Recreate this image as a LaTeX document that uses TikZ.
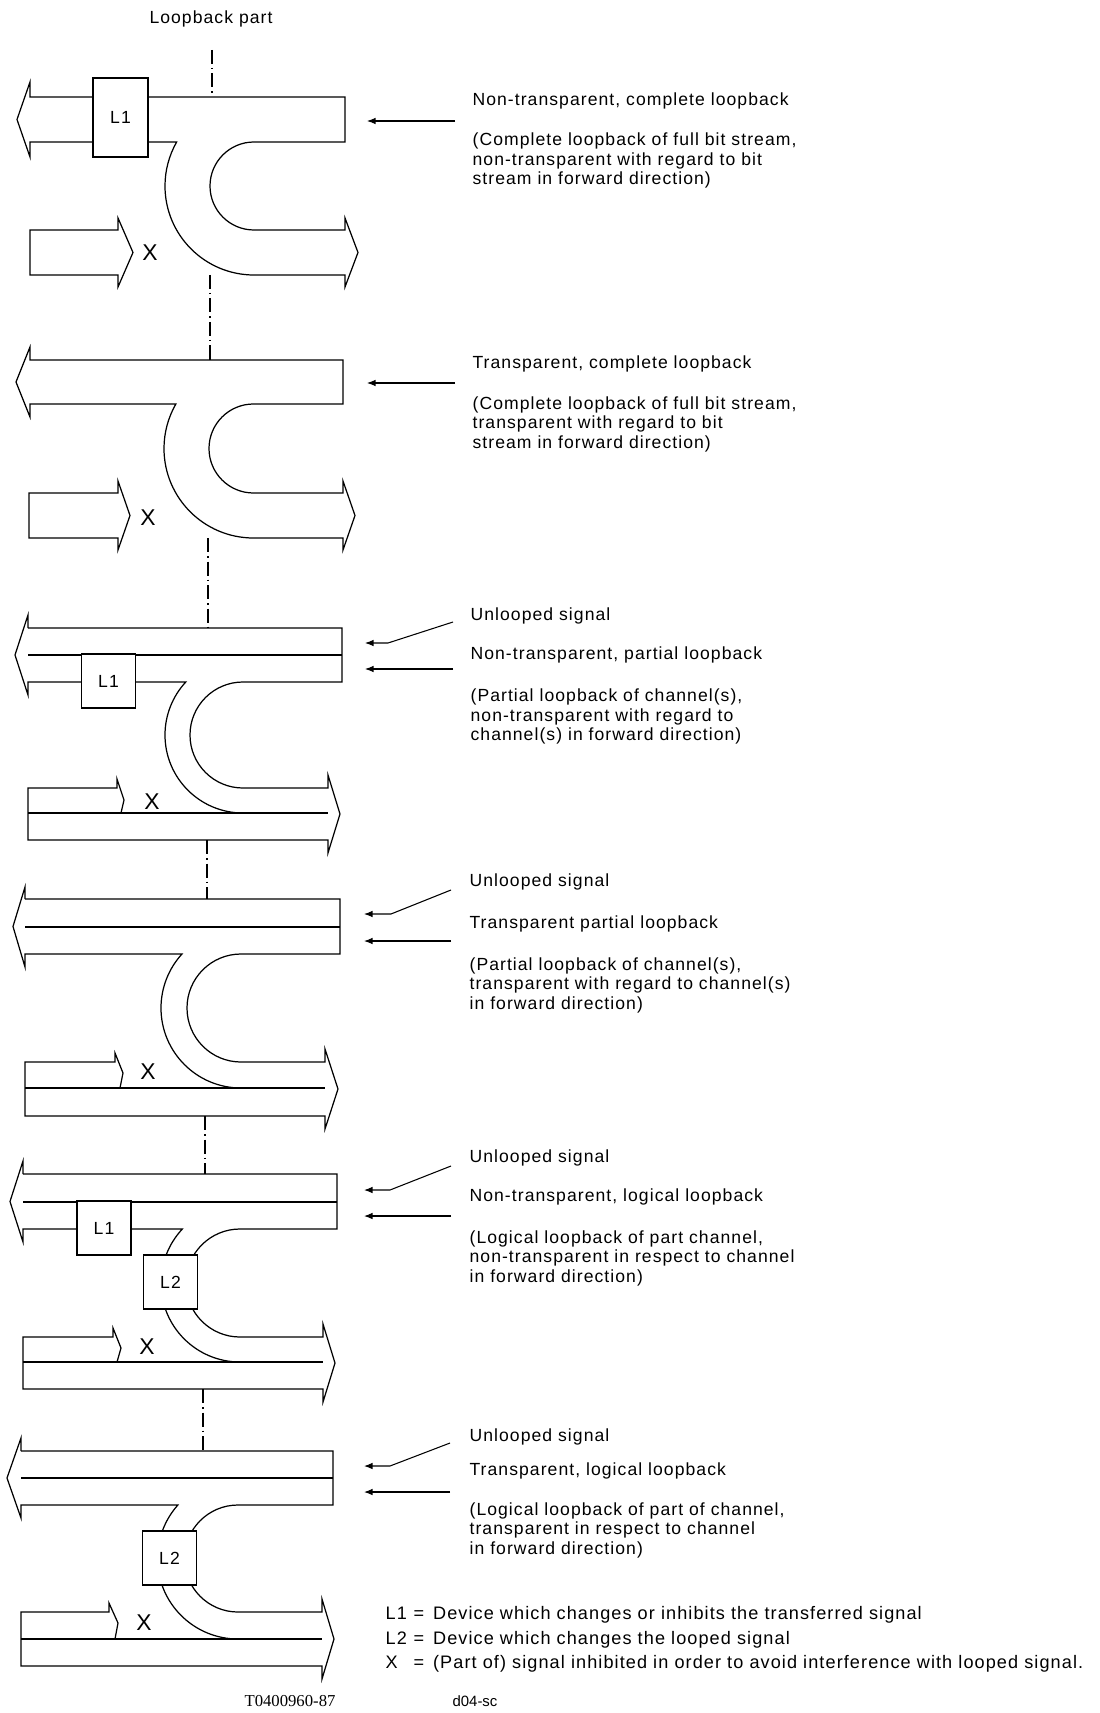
\documentclass[tikz,border=0pt]{standalone}
\usepackage{fontspec}
\setmainfont{Liberation Sans}
\newfontfamily\lblfont[LetterSpace=6]{Liberation Sans}
\newfontfamily\codefont{Liberation Serif}
\usetikzlibrary{arrows.meta}

\begin{document}
\begin{tikzpicture}[x=0.2mm, y=-0.2mm, line width=0.7pt,
    dev/.style={draw, fill=white, line width=0.7pt, inner sep=0pt,
      minimum width=10.8mm, minimum height=10.8mm,
      font=\lblfont\fontsize{10}{12}\selectfont},
    cut/.style={line width=0.6pt, dash pattern=on 2.8mm off 0.8mm on 0.3mm off 0.8mm},
    ptr/.style={line width=0.6pt, -{Latex[length=1.7mm, width=1.3mm]}},
    lbl/.style={anchor=west, inner sep=0pt, font=\lblfont\fontsize{10}{11.1}\selectfont},
    para/.style={lbl, align=left},
    xmark/.style={inner sep=0pt, font=\fontsize{13}{14}\selectfont}]

  \useasboundingbox (0,0) rectangle (1099,1713);

  \node[lbl, anchor=center] (head) at (211,18.6) {Loopback part};

  % loopback part (dash-dot)
  \draw[cut] (212,50) -- (212,97);
  \draw[cut] (210,275) -- (210,360);
  \draw[cut] (208,538) -- (208,628);
  \draw[cut] (207,840) -- (207,899);
  \draw[cut] (205,1116) -- (205,1174);
  \draw[cut] (203,1389) -- (203,1451);

  % non-transparent, complete loopback
  \draw (30,97) -- (345,97) -- (345,142) -- (254,142)
    arc[start angle=270, end angle=90, radius=44] -- (345,230) -- (345,218)
    -- (358,252.5) -- (345,287) -- (345,275) -- (254,275)
    arc[start angle=90, end angle=209.6, radius=89] -- (30,142) -- (30,157)
    -- (17,119.5) -- (30,82) -- cycle;
  \draw (30,230) -- (118,230) -- (118,218) -- (133,252.5) -- (118,287)
    -- (118,275) -- (30,275) -- cycle;
  \node[dev, line width=1.6pt, minimum width=11mm, minimum height=15.8mm]
    (l1a) at (120.5,117.5) {L1};
  \node[xmark] (xa) at (150,253) {X};
  \node[lbl] (t1) at (472,100.5) {Non-transparent, complete loopback};
  \node[para] (p1) at (472,160.5) {(Complete loopback of full bit stream,\\
    non-transparent with regard to bit\\ stream in forward direction)};
  \coordinate (a1tail) at (455,121);
  \coordinate (a1tip) at (367,121);
  \draw[ptr] (a1tail) -- (a1tip);

  % transparent, complete loopback
  \draw (30,360) -- (343,360) -- (343,404) -- (253.5,404)
    arc[start angle=270, end angle=90, radius=44.5] -- (343,493) -- (343,481)
    -- (355,515.5) -- (343,550) -- (343,538) -- (253.5,538)
    arc[start angle=90, end angle=209.8, radius=89.5] -- (30,404) -- (30,417)
    -- (16,382) -- (30,347) -- cycle;
  \draw (29,493) -- (118,493) -- (118,481) -- (130,515.5) -- (118,550)
    -- (118,538) -- (29,538) -- cycle;
  \node[xmark] (xb) at (148,518) {X};
  \node[lbl] (t2) at (472,364) {Transparent, complete loopback};
  \node[para] (p2) at (472,424) {(Complete loopback of full bit stream,\\
    transparent with regard to bit\\ stream in forward direction)};
  \coordinate (a2tail) at (455,383);
  \coordinate (a2tip) at (367,383);
  \draw[ptr] (a2tail) -- (a2tip);

  % non-transparent, partial loopback
  \draw (28,628) -- (342,628) -- (342,682) -- (243,682)
    arc[start angle=270, end angle=90, radius=53] -- (328,788) -- (328,775)
    -- (340,814) -- (328,853) -- (328,840) -- (28,840) -- (28,788)
    -- (117,788) -- (117,779) -- (124,800) -- (121,813);
  \draw (28,813) -- (328,813);
  \draw (243,813) arc[start angle=90, end angle=222.8, radius=78]
    -- (28,682) -- (28,695) -- (15,655) -- (28,615) -- (28,628);
  \draw (28,655) -- (342,655);
  \node[dev] (l1b) at (108.5,681) {L1};
  \node[xmark] (xc) at (152,802) {X};
  \node[lbl] (u3) at (470,616) {Unlooped signal};
  \node[lbl] (t3) at (470,655) {Non-transparent, partial loopback};
  \node[para] (p3) at (470,716.5) {(Partial loopback of channel(s),\\
    non-transparent with regard to\\ channel(s) in forward direction)};
  \coordinate (u3tail) at (453,622);
  \coordinate (u3bend) at (388,643);
  \coordinate (u3tip) at (365,643);
  \draw[ptr] (u3tail) -- (u3bend) -- (u3tip);
  \coordinate (a3tail) at (453,669);
  \coordinate (a3tip) at (365,669);
  \draw[ptr] (a3tail) -- (a3tip);

  % transparent partial loopback
  \draw (25,899) -- (340,899) -- (340,954) -- (241,954)
    arc[start angle=270, end angle=90, radius=54] -- (325,1062) -- (325,1049)
    -- (338,1089) -- (325,1129) -- (325,1116) -- (25,1116) -- (25,1062)
    -- (115,1062) -- (115,1053) -- (123,1073) -- (120,1088);
  \draw (25,1088) -- (325,1088);
  \draw (241,1088) arc[start angle=90, end angle=222.5, radius=80]
    -- (25,954) -- (25,967) -- (13,926.5) -- (25,887) -- (25,899);
  \draw (25,927) -- (340,927);
  \node[xmark] (xd) at (148,1072) {X};
  \node[lbl] (u4) at (469,881.5) {Unlooped signal};
  \node[lbl] (t4) at (469,924) {Transparent partial loopback};
  \node[para] (p4) at (469,985) {(Partial loopback of channel(s),\\
    transparent with regard to channel(s)\\ in forward direction)};
  \coordinate (u4tail) at (451,890);
  \coordinate (u4bend) at (391,914);
  \coordinate (u4tip) at (364,914);
  \draw[ptr] (u4tail) -- (u4bend) -- (u4tip);
  \coordinate (a4tail) at (451,941);
  \coordinate (a4tip) at (364,941);
  \draw[ptr] (a4tail) -- (a4tip);

  % non-transparent, logical loopback
  \draw (23,1174) -- (337,1174) -- (337,1229) -- (240,1229)
    arc[start angle=270, end angle=90, radius=54] -- (323,1337) -- (323,1324)
    -- (335,1363) -- (323,1402) -- (323,1389) -- (23,1389) -- (23,1337)
    -- (113,1337) -- (113,1328) -- (121,1348) -- (117,1362);
  \draw (23,1362) -- (323,1362);
  \draw (240,1362) arc[start angle=90, end angle=223.1, radius=79]
    -- (23,1229) -- (23,1242) -- (10,1201.5) -- (23,1161) -- (23,1174);
  \draw (23,1202) -- (337,1202);
  \node[dev] (l1c) at (104,1228) {L1};
  \node[dev] (l2a) at (170.5,1282) {L2};
  \node[xmark] (xe) at (147,1347) {X};
  \node[lbl] (u5) at (469,1158) {Unlooped signal};
  \node[lbl] (t5) at (469,1197) {Non-transparent, logical loopback};
  \node[para] (p5) at (469,1258) {(Logical loopback of part channel,\\
    non-transparent in respect to channel\\ in forward direction)};
  \coordinate (u5tail) at (451,1166);
  \coordinate (u5bend) at (390,1190);
  \coordinate (u5tip) at (364,1190);
  \draw[ptr] (u5tail) -- (u5bend) -- (u5tip);
  \coordinate (a5tail) at (451,1216);
  \coordinate (a5tip) at (364,1216);
  \draw[ptr] (a5tail) -- (a5tip);

  % transparent, logical loopback
  \draw (21,1451) -- (333,1451) -- (333,1505) -- (238,1505)
    arc[start angle=270, end angle=90, radius=53.5] -- (322,1612) -- (322,1599)
    -- (334,1639) -- (322,1679) -- (322,1666) -- (21,1666) -- (21,1612)
    -- (109,1612) -- (109,1603) -- (118,1623) -- (115,1639);
  \draw (21,1639) -- (322,1639);
  \draw (238,1639) arc[start angle=90, end angle=221.6, radius=80.5]
    -- (21,1505) -- (21,1518) -- (7,1478) -- (21,1438) -- (21,1451);
  \draw (21,1478) -- (333,1478);
  \node[dev] (l2b) at (169.5,1558) {L2};
  \node[xmark] (xf) at (144,1623) {X};
  \node[lbl] (u6) at (469,1436.5) {Unlooped signal};
  \node[lbl] (t6) at (469,1471) {Transparent, logical loopback};
  \node[para] (p6) at (469,1530) {(Logical loopback of part of channel,\\
    transparent in respect to channel\\ in forward direction)};
  \coordinate (u6tail) at (450,1443);
  \coordinate (u6bend) at (390,1466);
  \coordinate (u6tip) at (364,1466);
  \draw[ptr] (u6tail) -- (u6bend) -- (u6tip);
  \coordinate (a6tail) at (450,1492);
  \coordinate (a6tip) at (364,1492);
  \draw[ptr] (a6tail) -- (a6tip);

  % legend
  \node[lbl, align=left, font=\lblfont\fontsize{10.3}{13.9}\selectfont]
    (legend) at (385,1639.5)
    {\makebox[5.6mm][l]{L1}\makebox[3.9mm][l]{=}Device which changes or inhibits the transferred signal\\
     \makebox[5.6mm][l]{L2}\makebox[3.9mm][l]{=}Device which changes the looped signal\\
     \makebox[5.6mm][l]{X}\makebox[3.9mm][l]{=}(Part of) signal inhibited in order to avoid interference with looped signal.};
  \node[font=\codefont\fontsize{9.5}{11}\selectfont] (code) at (290,1701) {T0400960-87};
  \node[font=\fontsize{8.5}{10}\selectfont] (tag) at (475,1701) {d04-sc};
\end{tikzpicture}
\end{document}
